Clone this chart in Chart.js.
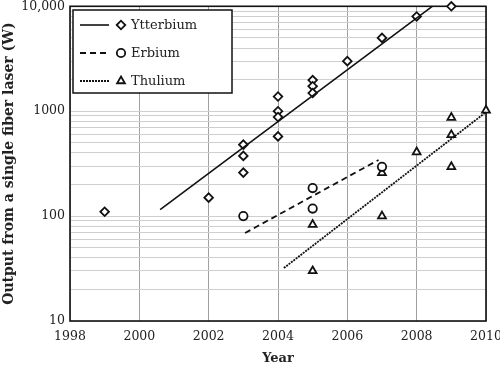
<!DOCTYPE html>
<html>
<head>
<meta charset="utf-8">
<script src="https://cdn.jsdelivr.net/npm/chart.js@4.4.1/dist/chart.umd.min.js"></script>
<style>
  html, body { margin: 0; padding: 0; background: #fff; }
  #wrap { width: 500px; height: 366px; }
</style>
</head>
<body>
<div id="wrap"><canvas id="laserChart" width="500" height="366"></canvas></div>
<script>
const ybYears = [1999, 2002, 2003, 2003, 2003, 2004, 2004, 2004, 2004, 2005, 2005, 2005, 2006, 2007, 2008, 2009];
const ybPower = [110, 150, 480, 375, 260, 575, 1380, 1000, 880, 1980, 1730, 1490, 3000, 5000, 8000, 10000];

const erYears = [2003, 2005, 2005, 2007];
const erPower = [100, 185, 118, 295];

const tmYears = [2005, 2005, 2007, 2007, 2008, 2009, 2009, 2009, 2010];
const tmPower = [30, 83, 100, 258, 408, 870, 595, 295, 1020];

// trend lines (end points)
const ybFitYears = [2000.6, 2008.45];
const ybFitPower = [115, 10000];
const erFitYears = [2003.05, 2006.9];
const erFitPower = [69, 343];
const tmFitYears = [2004.17, 2010];
const tmFitPower = [32, 980];

const yTickValues = [10, 100, 1000, 10000];
const legendNames = ['Ytterbium', 'Erbium', 'Thulium'];

const FONT = "'DejaVu Serif', serif";

function toPoints(xs, ys) {
    return xs.map((x, i) => ({ x: x, y: ys[i] }));
}

function markerSet(label, xs, ys, style, radius) {
    return {
        label: label,
        data: toPoints(xs, ys),
        showLine: false,
        pointStyle: style,
        pointRadius: radius,
        pointBorderWidth: 1.8,
        pointBorderColor: '#111',
        pointBackgroundColor: '#fff',
        clip: false
    };
}

function fitSet(label, xs, ys, dash, width) {
    return {
        label: label,
        data: toPoints(xs, ys),
        showLine: true,
        pointRadius: 0,
        borderColor: '#111',
        borderWidth: width,
        borderDash: dash,
        clip: false
    };
}

// --- legend box drawn inside the plot ---
const legendBox = {
    id: 'legendBox',
    afterDraw(chart) {
        const ctx = chart.ctx;
        ctx.save();
        ctx.fillStyle = '#fff';
        ctx.fillRect(73, 10, 159, 83);
        ctx.strokeStyle = '#111';
        ctx.lineWidth = 1.5;
        ctx.strokeRect(73, 10, 159, 83);

        const rows = [25, 53, 81];
        const dashes = [[], [6, 4], [2, 1]];
        const styles = ['rectRot', 'circle', 'triangle'];
        const radii = [4.3, 4.2, 4.5];
        rows.forEach((y, i) => {
            ctx.strokeStyle = '#111';
            ctx.lineWidth = i === 0 ? 1.6 : 1.8;
            ctx.setLineDash(dashes[i]);
            ctx.beginPath();
            ctx.moveTo(80, y);
            ctx.lineTo(109, y);
            ctx.stroke();
            ctx.setLineDash([]);
            ctx.lineWidth = 1.8;
            ctx.fillStyle = '#fff';
            Chart.helpers.drawPoint(ctx, { pointStyle: styles[i], radius: radii[i], borderWidth: 1.8 }, 121, y);
            ctx.fillStyle = '#222';
            ctx.font = '13px ' + FONT;
            ctx.textBaseline = 'middle';
            ctx.textAlign = 'left';
            ctx.fillText(legendNames[i], 131, y + 1);
        });
        ctx.restore();
    }
};

// black frame round the plot area
const plotFrame = {
    id: 'plotFrame',
    beforeDatasetsDraw(chart) {
        const a = chart.chartArea;
        const ctx = chart.ctx;
        ctx.save();
        ctx.strokeStyle = '#111';
        ctx.lineWidth = 1.6;
        ctx.strokeRect(a.left, a.top, a.right - a.left, a.bottom - a.top);
        ctx.restore();
    }
};

const ctx = document.getElementById('laserChart').getContext('2d');
new Chart(ctx, {
    type: 'scatter',
    data: {
        datasets: [
            fitSet('Ytterbium fit', ybFitYears, ybFitPower, [], 1.6),
            fitSet('Erbium fit', erFitYears, erFitPower, [6, 4], 1.8),
            fitSet('Thulium fit', tmFitYears, tmFitPower, [2, 1], 1.8),
            markerSet('Ytterbium', ybYears, ybPower, 'rectRot', 4.3),
            markerSet('Erbium', erYears, erPower, 'circle', 4.2),
            markerSet('Thulium', tmYears, tmPower, 'triangle', 4.5)
        ]
    },
    options: {
        responsive: false,
        animation: false,
        layout: { padding: 0 },
        plugins: {
            legend: { display: false },
            tooltip: { enabled: false }
        },
        scales: {
            x: {
                type: 'linear',
                min: 1998,
                max: 2010,
                ticks: {
                    stepSize: 2,
                    padding: 8,
                    color: '#222',
                    font: { family: FONT, size: 12.5 },
                    callback: (v) => String(v)
                },
                grid: { color: '#a0a0a0', lineWidth: 1, drawTicks: false },
                border: { display: false },
                title: {
                    display: true,
                    text: 'Year',
                    color: '#222',
                    font: { family: FONT, size: 13, weight: 'bold' },
                    padding: { top: 6, bottom: 0 }
                },
                afterFit: (scale) => {
                    scale.height = 45;
                    scale.paddingRight = 14;
                }
            },
            y: {
                type: 'logarithmic',
                min: 10,
                max: 10000,
                afterBuildTicks: (scale) => {
                    const list = [];
                    for (let d = 10; d < 10000; d *= 10) {
                        for (let k = 1; k < 10; k++) list.push({ value: d * k });
                    }
                    list.push({ value: 10000 });
                    scale.ticks = list;
                },
                ticks: {
                    padding: 5,
                    color: '#222',
                    autoSkip: false,
                    font: { family: FONT, size: 12.5 },
                    callback: (v) => {
                        if (!yTickValues.includes(v)) return '';
                        return v === 10000 ? '10,000' : String(v);
                    }
                },
                grid: { color: '#cfcfcf', lineWidth: 1, drawTicks: false },
                border: { display: false },
                title: {
                    display: true,
                    text: 'Output from a single fiber laser (W)',
                    color: '#222',
                    font: { family: FONT, size: 14, weight: 'bold' },
                    padding: { top: 1, bottom: 0 }
                },
                afterFit: (scale) => {
                    scale.width = 70;
                    scale.paddingTop = 5;
                }
            }
        }
    },
    plugins: [plotFrame, legendBox]
});
</script>
</body>
</html>
